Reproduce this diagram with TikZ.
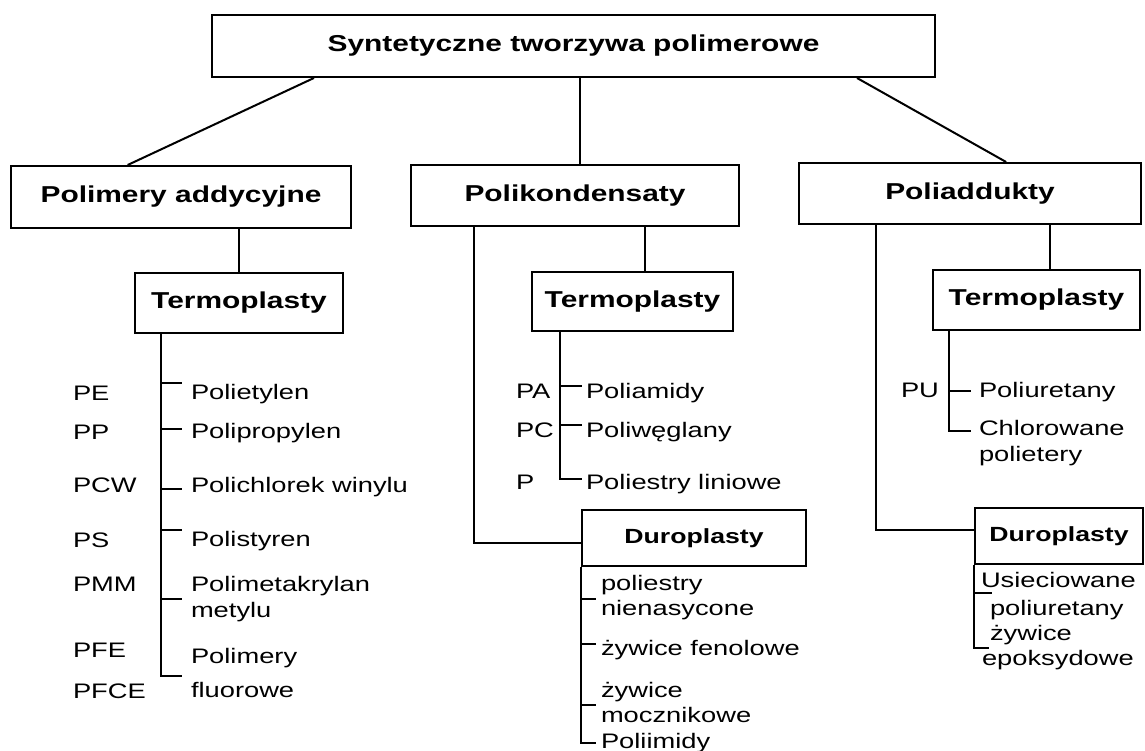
\documentclass[tikz,border=0pt]{standalone}
\usepackage{fontspec}
\setmainfont{Liberation Sans}[FakeStretch=1.3]
\usetikzlibrary{calc}
\tikzset{
  box/.style={draw, line width=2pt, inner sep=0pt, font=\fontsize{23}{27}\selectfont\bfseries},
  smallbox/.style={box, font=\fontsize{20.5}{25}\selectfont\bfseries},
  lbl/.style={anchor=base west, inner sep=0pt, font=\fontsize{21}{25}\selectfont},
}

\begin{document}
\begin{tikzpicture}[x=1pt,y=-1pt,line width=2pt]
  \useasboundingbox (0,0) rectangle (1145,751);

  % pola
  \node[box, minimum width=723, minimum height=62] (top) at (573.5,46) {Syntetyczne tworzywa polimerowe};
  \node[box, minimum width=340, minimum height=62] (addyc) at (181,197) {Polimery addycyjne};
  \node[box, minimum width=328, minimum height=61] (kond) at (575,195.5) {Polikondensaty};
  \node[box, minimum width=342, minimum height=61] (addukt) at (970,193.5) {Poliaddukty};
  \node[box, minimum width=208, minimum height=60] (termA) at (239,303) {Termoplasty};
  \node[box, minimum width=201, minimum height=59] (termK) at (632.5,301.5) {Termoplasty};
  \node[box, minimum width=207, minimum height=60] (termD) at (1036.5,300) {Termoplasty};
  \node[smallbox, minimum width=224, minimum height=56] (duroK) at (694,538) {Duroplasty};
  \node[smallbox, minimum width=168, minimum height=56] (duroD) at (1059,536) {Duroplasty};

  % gałęzie
  \draw ($(top.south west)!0.142!(top.south east)$) -- ($(addyc.north west)!0.344!(addyc.north east)$);
  \coordinate (kondIn) at ($(kond.north west)!0.515!(kond.north east)$);
  \draw (kondIn |- top.south) -- (kondIn);
  \draw ($(top.south west)!0.891!(top.south east)$) -- ($(addukt.north west)!0.605!(addukt.north east)$);

  \draw (termA.north |- addyc.south) -- (termA.north);
  \coordinate (termKIn) at ($(termK.north west)!0.56!(termK.north east)$);
  \draw (termKIn |- kond.south) -- (termKIn);
  \coordinate (kondOut) at ($(kond.south west)!0.195!(kond.south east)$);
  \draw (kondOut) |- ($(duroK.west)+(0,5)$);
  \coordinate (termDIn) at ($(termD.north west)!0.565!(termD.north east)$);
  \draw (termDIn |- addukt.south) -- (termDIn);
  \coordinate (adduktOut) at ($(addukt.south west)!0.228!(addukt.south east)$);
  \draw (adduktOut) |- ($(duroD.west)+(0,-6)$);

  % termoplasty addycyjne
  \coordinate (trA) at ($(termA.south west)+(27,0)$);
  \draw (trA) -- ++(0,342) -- ++(21,0);
  \foreach \y in {49,95,155,196,265}
    \draw ($(trA)+(0,\y)$) -- ++(21,0);
  \foreach \y/\t in {399/Polietylen, 438/Polipropylen, 492/Polichlorek winylu,
      546/Polistyren, 591/Polimetakrylan, 617/metylu, 663/Polimery, 697/fluorowe}
    \node[lbl] at (190,\y) {\t};
  \foreach \y/\t in {400/PE, 439/PP, 492/PCW, 547/PS, 591/PMM, 657/PFE, 698/PFCE}
    \node[lbl] at (72,\y) {\t};

  % termoplasty polikondensacyjne
  \coordinate (trK) at ($(termK.south west)+(29,0)$);
  \draw (trK) -- ++(0,147) -- ++(22,0);
  \foreach \y in {54,93}
    \draw ($(trK)+(0,\y)$) -- ++(22,0);
  \foreach \y/\t in {398/Poliamidy, 437/Poliwęglany, 489/Poliestry liniowe}
    \node[lbl] at (585,\y) {\t};
  \foreach \y/\t in {398/PA, 437/PC, 489/P}
    \node[lbl] at (515,\y) {\t};

  % duroplasty polikondensacyjne
  \coordinate (trDK) at (duroK.south west);
  \draw (trDK) -- ++(0,176) -- ++(15,0);
  \foreach \y in {32,77,138}
    \draw ($(trDK)+(0,\y)$) -- ++(15,0);
  \foreach \y/\t in {590/poliestry, 615/nienasycone, 655/żywice fenolowe,
      697/żywice, 722/mocznikowe, 748/Poliimidy}
    \node[lbl] at (600,\y) {\t};

  % termoplasty poliaddycyjne
  \coordinate (trD) at ($(termD.south west)+(17,0)$);
  \draw (trD) -- ++(0,100) -- ++(22,0);
  \draw ($(trD)+(0,60)$) -- ++(22,0);
  \node[lbl] at (900,397) {PU};
  \foreach \y/\t in {397/Poliuretany, 435/Chlorowane, 461/polietery}
    \node[lbl] at (978,\y) {\t};

  % duroplasty poliaddycyjne
  \coordinate (trDD) at (duroD.south west);
  \draw (trDD) -- ++(0,83) -- ++(15,0);
  \draw ($(trDD)+(0,28)$) -- ++(18,0);
  \node[lbl] at (980,587) {Usieciowane};
  \node[lbl] at (989,615) {poliuretany};
  \node[lbl] at (989,640) {żywice};
  \node[lbl] at (981,665) {epoksydowe};
\end{tikzpicture}
\end{document}
